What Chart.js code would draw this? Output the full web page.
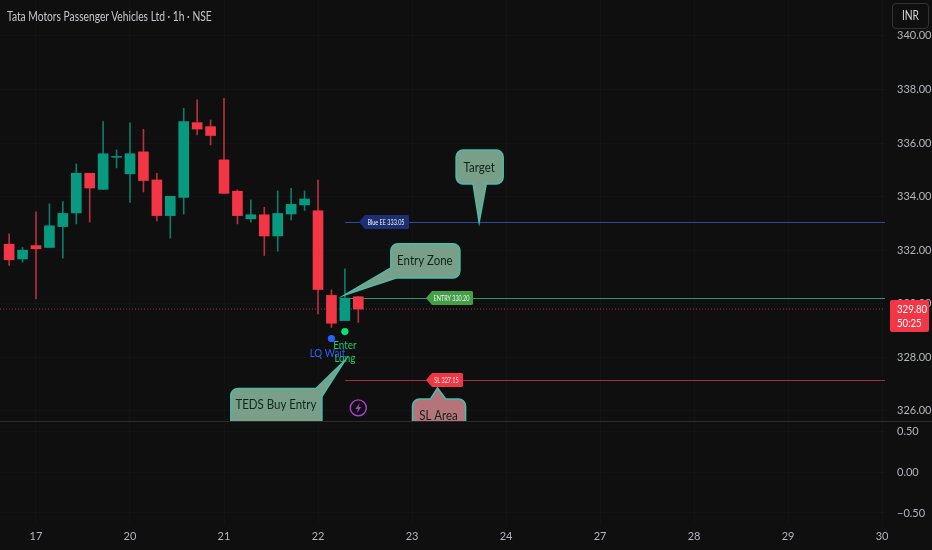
<!DOCTYPE html>
<html>
<head>
<meta charset="utf-8">
<title>Tata Motors Passenger Vehicles Ltd</title>
<script src="https://cdn.jsdelivr.net/npm/chart.js"></script>
<style>
  html, body { margin: 0; padding: 0; background: #0f0f0f; overflow: hidden; }
  #wrap { position: relative; width: 932px; height: 550px; }
  #chart { display: block; }
  #title { position: absolute; left: 7px; top: 9px; color: #c4c6cb; font: 12.5px Lato, sans-serif; white-space: nowrap;
           transform: scaleX(0.82); transform-origin: left center; }
  #cur { position: absolute; left: 892px; top: 3px; width: 35px; height: 24px; text-align: center;
         border: 1px solid #333333; border-radius: 4px; background: #0f0f0f; }
  #cur span { display: inline-block; color: #d6d6d6; font: 12.5px/24px Lato, sans-serif; transform: scaleX(0.82); }
</style>
</head>
<body>
<div id="wrap">
  <canvas id="chart" width="932" height="550"></canvas>
  <div id="title">Tata Motors Passenger Vehicles Ltd · 1h · NSE</div>
  <div id="cur"><span>INR</span></div>
</div>
<script>
// candles, hourly, index 0 is the first bar of the 17th
const candleIdx = [-2,-1,0,1,2,3,4,5,6,7,8,9,10,11,12,13,14,15,16,17,18,19,20,21,22,23,24];
const opens  = [332.22,331.67,332.17,332.10,332.88,333.39,334.87,334.27,335.47,334.85,335.67,334.62,333.29,333.97,336.76,336.61,335.37,334.20,333.17,333.32,332.53,333.35,333.69,333.47,330.31,329.37,330.26];
const highs  = [332.61,332.10,333.43,333.73,333.81,335.22,334.87,336.80,335.74,336.75,336.51,334.87,334.01,337.30,337.61,336.86,337.67,334.25,333.88,333.60,334.21,334.31,334.21,334.62,330.52,331.30,330.27];
const lows   = [331.43,331.55,330.18,332.10,331.70,332.98,333.05,334.27,335.07,333.78,334.17,333.09,332.45,333.35,336.30,335.93,334.12,332.98,333.04,331.80,331.96,333.13,333.48,329.62,329.11,329.37,329.30];
const closes = [331.64,332.00,332.05,332.91,333.37,334.87,334.32,335.60,335.50,335.60,334.60,333.29,334.01,336.80,336.52,336.28,334.12,333.29,333.32,332.53,333.37,333.71,333.91,330.53,329.27,330.21,329.80];

const dayIdx = [0,7,14,21,28,35,42,49,56,63];
const dayLabels = ['17','20','21','22','23','24','27','28','29','30'];
const priceTicks = [340,338,336,334,332,330,328,326];
const oscTicks = [0.5,0,-0.5];

const blueDot = [{ x: 22, y: 328.70 }];
const greenDot = [{ x: 23, y: 328.96 }];

const lastPrice = 329.80;
const countdown = '50:25';
const levels = [
  { price: 333.05, from: 23, color: '#2a4ca4', tag: 'Blue EE 333.05', tagFill: '#1c2f72', tagX: 359, tagW: 50 },
  { price: 330.20, from: 23, color: '#1f9a78', tag: 'ENTRY 330.20', tagFill: '#43a047', tagX: 426, tagW: 47 },
  { price: 327.15, from: 23, color: '#a92b3c', tag: 'SL 327.15', tagFill: '#f23645', tagX: 426, tagW: 37 }
];

const UP = '#089981', DOWN = '#f23645';
const isUp = opens.map((o, i) => closes[i] >= o);
const mainBottom = 421;
const FONT = 'Lato, sans-serif';

// speech bubbles: tip sits on the price scale, outline is px relative to the tip
const bubbles = [
  { text: 'Target', tip: [33, 333.05], fill: '#7a9f88', tx: 0, ty: -55,
    pts: [[-23,-72,7],[24,-72,7],[24,-38,7],[7,-38,0],[0,0,0],[-6,-38,0],[-23,-38,7]] },
  { text: 'Entry Zone', tip: [23, 330.33], fill: '#7a9f88', tx: 80, ty: -34,
    pts: [[46,-51,7],[115,-51,7],[115,-17,7],[52,-17,0],[0,0,0],[46,-27,0]] },
  { text: 'TEDS Buy Entry', tip: [23, 327.88], fill: '#7a9f88', tx: -69, ty: 44,
    pts: [[-114,28,7],[-29,28,0],[0,0,0],[-23,36,0],[-23,66,7],[-114,66,7]] },
  { text: 'SL Area', tip: [29.9, 327.15], fill: '#b4747a', tx: 1, ty: 35,
    pts: [[-25,19,7],[-7,19,0],[0,8,0],[8,19,0],[28,19,7],[28,60,7],[-25,60,7]] }
];

function outline(ctx, pts) {
  const n = pts.length;
  const mx = (pts[0][0] + pts[n - 1][0]) / 2, my = (pts[0][1] + pts[n - 1][1]) / 2;
  ctx.beginPath();
  ctx.moveTo(mx, my);
  for (let i = 0; i < n; i++) {
    const p = pts[i], q = pts[(i + 1) % n];
    if (p[2]) ctx.arcTo(p[0], p[1], q[0], q[1], p[2]);
    else ctx.lineTo(p[0], p[1]);
  }
  ctx.closePath();
}

// the source font is narrower than anything installed, so squeeze it a bit
function narrowText(ctx, text, x, y, k) {
  ctx.save();
  ctx.translate(x, y);
  ctx.scale(k, 1);
  ctx.fillText(text, 0, 0);
  ctx.restore();
}

function priceTag(ctx, x, y, w, fill, text) {
  ctx.fillStyle = fill;
  ctx.beginPath();
  ctx.moveTo(x, y);
  ctx.lineTo(x + 6, y - 7);
  ctx.lineTo(x + w - 1, y - 7);
  ctx.lineTo(x + w, y - 6);
  ctx.lineTo(x + w, y + 6);
  ctx.lineTo(x + w - 1, y + 7);
  ctx.lineTo(x + 6, y + 7);
  ctx.closePath();
  ctx.fill();
  ctx.fillStyle = '#f2f2f2';
  ctx.font = '7.5px ' + FONT;
  ctx.textAlign = 'center';
  ctx.textBaseline = 'middle';
  narrowText(ctx, text, x + w / 2 + 2, y + 0.5, 0.73);
}

const drawings = {
  id: 'drawings',
  beforeDatasetsDraw(chart) {
    const { ctx, scales: { x, y }, chartArea: a } = chart;
    ctx.save();
    // panel separator
    ctx.strokeStyle = '#2b2b2b';
    ctx.lineWidth = 1;
    ctx.beginPath();
    ctx.moveTo(0, mainBottom + 0.5);
    ctx.lineTo(932, mainBottom + 0.5);
    ctx.stroke();
    // last price line
    ctx.strokeStyle = '#a32f3c';
    ctx.setLineDash([1, 2]);
    ctx.beginPath();
    ctx.moveTo(a.left, y.getPixelForValue(lastPrice));
    ctx.lineTo(a.right, y.getPixelForValue(lastPrice));
    ctx.stroke();
    ctx.setLineDash([]);
    levels.forEach(l => {
      const py = Math.round(y.getPixelForValue(l.price)) + 0.5;
      ctx.strokeStyle = l.color;
      ctx.beginPath();
      ctx.moveTo(x.getPixelForValue(l.from), py);
      ctx.lineTo(a.right, py);
      ctx.stroke();
    });
    ctx.restore();
  },
  afterDatasetsDraw(chart) {
    const { ctx, scales: { x, y }, chartArea: a } = chart;
    ctx.save();
    levels.forEach(l => priceTag(ctx, l.tagX, Math.round(y.getPixelForValue(l.price)), l.tagW, l.tagFill, l.tag));

    // bubbles are cut off by the lower panel
    ctx.beginPath();
    ctx.rect(0, 0, a.right, mainBottom);
    ctx.clip();
    ctx.textAlign = 'center';
    ctx.textBaseline = 'middle';
    bubbles.forEach(b => {
      const tx = x.getPixelForValue(b.tip[0]), ty = y.getPixelForValue(b.tip[1]);
      ctx.save();
      ctx.translate(tx, ty);
      outline(ctx, b.pts);
      ctx.fillStyle = b.fill;
      ctx.fill();
      ctx.strokeStyle = '#4dbbaa';
      ctx.lineWidth = 1.6;
      ctx.stroke();
      ctx.fillStyle = '#10241c';
      ctx.font = '14px ' + FONT;
      narrowText(ctx, b.text, b.tx, b.ty, 0.82);
      ctx.restore();
    });

    // signal texts
    ctx.font = '12px ' + FONT;
    ctx.fillStyle = '#2962ff';
    narrowText(ctx, 'LQ Wait', x.getPixelForValue(21.7), y.getPixelForValue(328.17), 0.82);
    ctx.fillStyle = '#14cf72';
    narrowText(ctx, 'Enter', x.getPixelForValue(23), y.getPixelForValue(328.44), 0.82);
    narrowText(ctx, 'Long', x.getPixelForValue(23), y.getPixelForValue(327.96), 0.82);

    // lightning icon
    const ix = x.getPixelForValue(24), iy = y.getPixelForValue(326.11);
    ctx.strokeStyle = '#b040d8';
    ctx.fillStyle = '#b040d8';
    ctx.lineWidth = 1.4;
    ctx.beginPath();
    ctx.arc(ix, iy, 8, 0, Math.PI * 2);
    ctx.stroke();
    ctx.beginPath();
    ctx.moveTo(ix + 1.5, iy - 5);
    ctx.lineTo(ix - 3, iy + 1);
    ctx.lineTo(ix - 0.3, iy + 1);
    ctx.lineTo(ix - 1.5, iy + 5);
    ctx.lineTo(ix + 3, iy - 1);
    ctx.lineTo(ix + 0.3, iy - 1);
    ctx.closePath();
    ctx.fill();
    ctx.restore();

    // last price box on the axis
    ctx.save();
    ctx.fillStyle = DOWN;
    ctx.beginPath();
    ctx.roundRect(890, 300, 39, 32, 2);
    ctx.fill();
    ctx.fillStyle = '#ffffff';
    ctx.font = '12px ' + FONT;
    ctx.textAlign = 'left';
    ctx.textBaseline = 'middle';
    narrowText(ctx, lastPrice.toFixed(2), 897, 309.5, 0.8);
    narrowText(ctx, countdown, 897, 323, 0.8);
    ctx.restore();
  }
};

const axisFont = { family: FONT, size: 11 };
const gridColor = 'rgba(255,255,255,0.018)';

// no label padding, the plot has to reach the canvas edges
function noPadding(s) {
  s.paddingLeft = s.paddingRight = s.paddingTop = s.paddingBottom = 0;
}

new Chart(document.getElementById('chart').getContext('2d'), {
  type: 'bar',
  data: {
    datasets: [
      {
        type: 'scatter', data: blueDot, xAxisID: 'x', yAxisID: 'y',
        pointRadius: 3.6, pointBackgroundColor: '#2962ff', pointBorderWidth: 0
      },
      {
        type: 'scatter', data: greenDot, xAxisID: 'x', yAxisID: 'y',
        pointRadius: 3.6, pointBackgroundColor: '#00e676', pointBorderWidth: 0
      },
      {
        label: 'body',
        data: candleIdx.map((v, i) => ({ x: v, y: [opens[i], closes[i]] })),
        backgroundColor: isUp.map(u => u ? UP : DOWN),
        barThickness: 10, grouped: false, yAxisID: 'y', xAxisID: 'x'
      },
      {
        label: 'wick',
        data: candleIdx.map((v, i) => ({ x: v, y: [lows[i], highs[i]] })),
        backgroundColor: isUp.map(u => u ? '#0b7c69' : '#b5303f'),
        barThickness: 1, grouped: false, yAxisID: 'y', xAxisID: 'x'
      }
    ]
  },
  options: {
    responsive: false,
    animation: false,
    layout: { padding: 0, autoPadding: false },
    plugins: { legend: { display: false }, tooltip: { enabled: false } },
    scales: {
      x: {
        type: 'linear', offset: false, min: -2.68, max: 63.22,
        afterFit(s) { s.height = 25; noPadding(s); },
        afterBuildTicks(s) { s.ticks = dayIdx.map(v => ({ value: v })); },
        grid: { color: gridColor, drawTicks: false, offset: false },
        border: { display: false },
        ticks: {
          color: '#b2b5bc', font: axisFont, padding: 5, maxRotation: 0, autoSkip: false,
          callback: v => dayLabels[dayIdx.indexOf(v)]
        }
      },
      y: {
        type: 'linear', position: 'right', stack: 'panes', stackWeight: 421,
        min: 325.62, max: 341.34,
        afterFit(s) { s.width = 47; noPadding(s); },
        afterBuildTicks(s) { s.ticks = priceTicks.map(v => ({ value: v })); },
        grid: { color: gridColor, drawTicks: false },
        border: { display: false },
        ticks: { color: '#b2b5bc', font: axisFont, padding: 12, callback: v => v.toFixed(2) }
      },
      y2: {
        type: 'linear', position: 'right', stack: 'panes', stackWeight: 104,
        min: -0.648, max: 0.63,
        afterFit(s) { s.width = 47; noPadding(s); },
        afterBuildTicks(s) { s.ticks = oscTicks.map(v => ({ value: v })); },
        grid: { color: gridColor, drawTicks: false },
        border: { display: false },
        ticks: { color: '#b2b5bc', font: axisFont, padding: 12, callback: v => v.toFixed(2).replace('-', '\u2212') }
      }
    }
  },
  plugins: [drawings]
});
</script>
</body>
</html>
